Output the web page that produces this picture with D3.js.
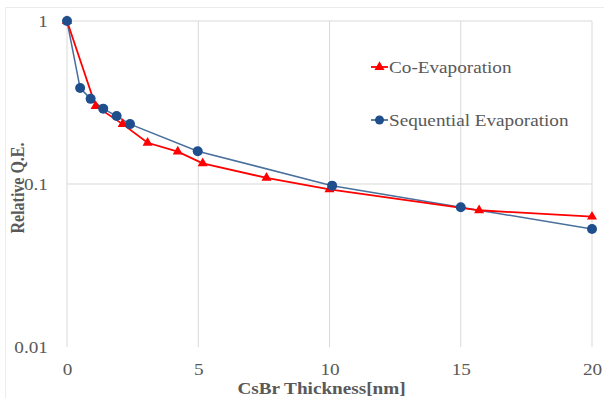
<!DOCTYPE html>
<html>
<head>
<meta charset="utf-8">
<script src="https://cdn.jsdelivr.net/npm/d3@7"></script>
<style>
  body { margin: 0; background: #fff; }
  text { font-family: "Liberation Serif", "Times New Roman", serif; }
</style>
</head>
<body>
<script>
// Relative Q.E. vs CsBr thickness

const coX = [0, 1.09, 2.12, 3.07, 4.22, 5.17, 7.6, 10.0, 15.7, 20];
const coY = [1, 0.301, 0.233, 0.179, 0.158, 0.134, 0.109, 0.0927, 0.069, 0.063];

const seqX = [0, 0.5, 0.9, 1.38, 1.89, 2.4, 4.98, 10.1, 15.0, 20];
const seqY = [1, 0.388, 0.333, 0.29, 0.261, 0.233, 0.159, 0.0977, 0.072, 0.053];

const xTicks = [0, 5, 10, 15, 20];
const yTicks = [0.01, 0.1, 1];
const seriesNames = ["Co-Evaporation", "Sequential Evaporation"];

const svgWidth = 604;
const svgHeight = 398;

const margin = { top: 21, right: 12, bottom: 51, left: 67 };
const width = svgWidth - margin.left - margin.right;
const height = svgHeight - margin.top - margin.bottom;

// the source picture is a bit wider than tall, so text gets stretched sideways
const stretch = 1.2;

let svg = d3.select("body")
    .append("svg")
    .attr("width", svgWidth)
    .attr("height", svgHeight);

// faint frame of the chart area
svg.append("line")
    .attr("x1", 5).attr("x2", svgWidth)
    .attr("y1", 7.5).attr("y2", 7.5)
    .attr("stroke", "#ececec");
svg.append("line")
    .attr("x1", 5.5).attr("x2", 5.5)
    .attr("y1", 7).attr("y2", svgHeight)
    .attr("stroke", "#ececec");

let chartGroup = svg.append("g")
    .attr("transform", `translate(${margin.left}, ${margin.top})`);

const x = d3.scaleLinear().domain([0, 20]).range([0, width]);
const y = d3.scaleLog().domain([0.01, 1]).range([height, 0]);

// gridlines
chartGroup.append("g")
    .selectAll("line")
    .data(xTicks)
    .enter()
    .append("line")
    .attr("x1", d => x(d)).attr("x2", d => x(d))
    .attr("y1", 0).attr("y2", height)
    .attr("stroke", "#d9d9d9");

chartGroup.append("g")
    .selectAll("line")
    .data(yTicks.filter(d => d > 0.01))
    .enter()
    .append("line")
    .attr("x1", 0).attr("x2", width)
    .attr("y1", d => y(d)).attr("y2", d => y(d))
    .attr("stroke", "#d9d9d9");

// tick labels
let xAxis = chartGroup.append("g")
    .attr("transform", `translate(0, ${height + 13.5})`)
    .call(d3.axisBottom(x).tickValues(xTicks).tickSize(0).tickFormat(d3.format("d")));
xAxis.select(".domain").remove();
xAxis.selectAll("text")
    .attr("font-size", "16px")
    .attr("font-family", "Liberation Serif, serif")
    .attr("fill", "#595959")
    .attr("transform", `scale(${stretch}, 1)`);

let yAxis = chartGroup.append("g")
    .attr("transform", "translate(-15.5, 0)")
    .call(d3.axisLeft(y).tickValues(yTicks).tickSize(0).tickFormat(d => String(d)));
yAxis.select(".domain").remove();
yAxis.selectAll("text")
    .attr("font-size", "16px")
    .attr("font-family", "Liberation Serif, serif")
    .attr("fill", "#595959")
    .attr("transform", `scale(${stretch}, 1)`);

// axis titles
chartGroup.append("text")
    .attr("transform", `translate(${width / 2 - 8}, ${height + 46.5}) scale(${stretch}, 1)`)
    .attr("text-anchor", "middle")
    .attr("font-size", "16px")
    .attr("font-weight", "bold")
    .attr("fill", "#595959")
    .text("CsBr Thickness[nm]");

chartGroup.append("text")
    .attr("transform", `translate(-43, ${height / 2 + 4}) rotate(-90) scale(1, ${stretch})`)
    .attr("text-anchor", "middle")
    .attr("font-size", "16px")
    .attr("font-weight", "bold")
    .attr("fill", "#595959")
    .text("Relative Q.E.");

const line = d3.line()
    .x(d => x(d[0]))
    .y(d => y(d[1]));

const coData = coX.map((d, i) => [d, coY[i]]);
const seqData = seqX.map((d, i) => [d, seqY[i]]);

const blue = "#1f4e8c";
const blueLine = "#4a6f9c";
const red = "#ff0000";

// sequential evaporation
chartGroup.append("path")
    .datum(seqData)
    .attr("d", line)
    .attr("fill", "none")
    .attr("stroke", blueLine)
    .attr("stroke-width", 1.5);

// co-evaporation
chartGroup.append("path")
    .datum(coData)
    .attr("d", line)
    .attr("fill", "none")
    .attr("stroke", red)
    .attr("stroke-width", 1.8);

const tri = d3.symbol().type(d3.symbolTriangle).size(44);

chartGroup.selectAll(".tri")
    .data(coData)
    .enter()
    .append("path")
    .attr("class", "tri")
    .attr("d", tri)
    .attr("transform", d => `translate(${x(d[0])}, ${y(d[1])})`)
    .attr("fill", red);

chartGroup.selectAll(".dot")
    .data(seqData)
    .enter()
    .append("circle")
    .attr("class", "dot")
    .attr("cx", d => x(d[0]))
    .attr("cy", d => y(d[1]))
    .attr("r", 5)
    .attr("fill", blue);

// legend
const legend = svg.append("g");
const legendY = [67, 120];

seriesNames.forEach((name, i) => {
    let g = legend.append("g")
        .attr("transform", `translate(371, ${legendY[i]})`);
    g.append("line")
        .attr("x1", 0).attr("x2", 17)
        .attr("y1", 0).attr("y2", 0)
        .attr("stroke", i === 0 ? red : blueLine)
        .attr("stroke-width", 1.8);
    if (i === 0) {
        g.append("path")
            .attr("d", tri)
            .attr("transform", "translate(8.5, 0)")
            .attr("fill", red);
    } else {
        g.append("circle")
            .attr("cx", 8.5).attr("cy", 0).attr("r", 4.5)
            .attr("fill", blue);
    }
    g.append("text")
        .attr("transform", `translate(18, 5.5) scale(${stretch}, 1)`)
        .attr("font-size", "16px")
        .attr("fill", "#595959")
        .text(name);
});
</script>
</body>
</html>
